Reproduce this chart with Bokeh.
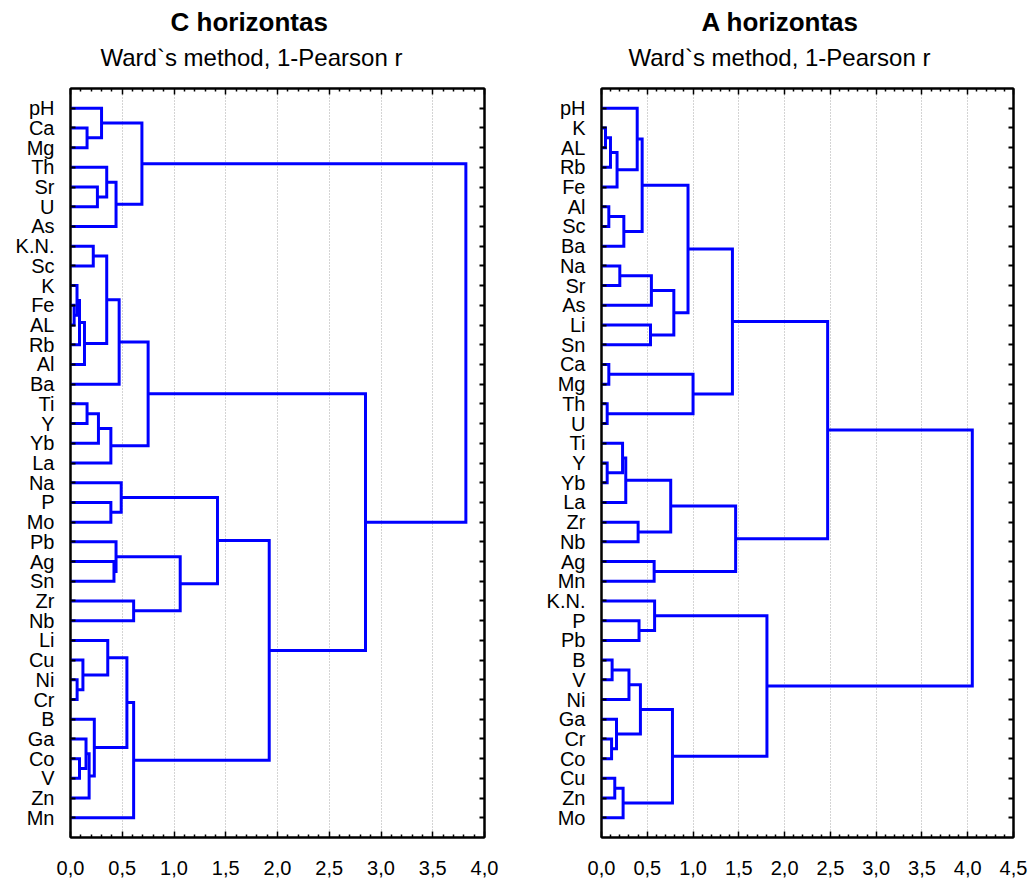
import numpy as np
from bokeh.plotting import figure
from bokeh.models import Range1d, FixedTicker, LinearAxis, Title, CustomJSTickFormatter
from bokeh.layouts import row
from bokeh.embed import file_html
from bokeh.resources import INLINE

FONT = "Liberation Sans"

# ---------------- C horizontas ----------------
c_title = "C horizontas"
c_subtitle = "Ward`s method, 1-Pearson r"
c_leaves = ["pH", "Ca", "Mg", "Th", "Sr", "U", "As", "K.N.", "Sc", "K", "Fe", "AL",
            "Rb", "Al", "Ba", "Ti", "Y", "Yb", "La", "Na", "P", "Mo", "Pb", "Ag",
            "Sn", "Zr", "Nb", "Li", "Cu", "Ni", "Cr", "B", "Ga", "Co", "V", "Zn", "Mn"]
# merges: children are leaf names or indices of earlier merges
c_left = ["Ca", "pH", "Sr", "Th", 3, 1, "K.N.", "Fe", "K", 8, 9, 6, 11, "Ti", 13, 14,
          12, "P", "Na", "Ag", "Pb", "Zr", 20, 18, "Ni", "Cu", "Li", "Co", "Ga", 28,
          "B", 26, 31, 23, 16, 5]
c_right = ["Mg", 0, "U", 2, "As", 4, "Sc", "AL", 7, "Rb", "Al", 10, "Ba", "Y", "Yb",
           "La", 15, "Mo", 17, "Sn", 19, "Nb", 21, 22, "Cr", 24, 25, "V", 27, "Zn",
           29, 30, "Mn", 32, 33, 34]
c_height = [0.16, 0.30, 0.26, 0.35, 0.44, 0.69, 0.22, 0.035, 0.063, 0.087, 0.135,
            0.35, 0.47, 0.16, 0.27, 0.39, 0.75, 0.39, 0.49, 0.42, 0.44, 0.61, 1.06,
            1.42, 0.064, 0.12, 0.36, 0.087, 0.15, 0.18, 0.23, 0.545, 0.61, 1.92,
            2.85, 3.82]
c_xticks = [0.0, 0.5, 1.0, 1.5, 2.0, 2.5, 3.0, 3.5, 4.0]
c_xlabels = ["0,0", "0,5", "1,0", "1,5", "2,0", "2,5", "3,0", "3,5", "4,0"]

# ---------------- A horizontas ----------------
a_title = "A horizontas"
a_subtitle = "Ward`s method, 1-Pearson r"
a_leaves = ["pH", "K", "AL", "Rb", "Fe", "Al", "Sc", "Ba", "Na", "Sr", "As", "Li",
            "Sn", "Ca", "Mg", "Th", "U", "Ti", "Y", "Yb", "La", "Zr", "Nb", "Ag",
            "Mn", "K.N.", "P", "Pb", "B", "V", "Ni", "Ga", "Cr", "Co", "Cu", "Zn", "Mo"]
a_left = ["K", 0, 1, "pH", "Al", 4, 3, "Na", 7, "Li", 8, 6, "Ca", "Th", 12, 11, "Y",
          "Ti", 17, "Zr", 18, "Ag", 20, 15, "P", "K.N.", "B", 26, "Cr", "Ga", 27,
          "Cu", 31, 30, 25, 23]
a_right = ["AL", "Rb", "Fe", 2, "Sc", "Ba", 5, "Sr", "As", "Sn", 9, 10, "Mg", "U", 13,
           14, "Yb", 16, "La", "Nb", 19, "Mn", 21, 22, "Pb", 24, "V", "Ni", "Co", 28,
           29, "Zn", "Mo", 32, 33, 34]
a_height = [0.044, 0.098, 0.17, 0.39, 0.08, 0.244, 0.444, 0.20, 0.545, 0.535, 0.79,
            0.945, 0.08, 0.062, 1.0, 1.43, 0.062, 0.23, 0.265, 0.40, 0.756, 0.575,
            1.465, 2.47, 0.41, 0.58, 0.116, 0.30, 0.11, 0.164, 0.425, 0.145, 0.236,
            0.775, 1.807, 4.05]
a_xticks = [0.0, 0.5, 1.0, 1.5, 2.0, 2.5, 3.0, 3.5, 4.0, 4.5]
a_xlabels = ["0,0", "0,5", "1,0", "1,5", "2,0", "2,5", "3,0", "3,5", "4,0", "4,5"]

FIG_H = 878
MB_TOP = 88
MB_BOTTOM = 41


def tree_paths(leaves, left, right, height):
    ypos = {name: i + 1 for i, name in enumerate(leaves)}
    node_x, node_y = [], []
    xs, ys = [], []

    def get(c):
        if isinstance(c, str):
            return 0.0, ypos[c]
        return node_x[c], node_y[c]

    for l, r, h in zip(left, right, height):
        xl, yl = get(l)
        xr, yr = get(r)
        xs.append([xl, h, h, xr])
        ys.append([yl, yl, yr, yr])
        node_x.append(h)
        node_y.append((yl + yr) / 2.0)
    return xs, ys


def make_panel(title, subtitle, leaves, left, right, height, xticks, xlabels,
               width, mb_left, mb_right, t_off, s_off):
    n = len(leaves)
    xmax = xticks[-1]
    p = figure(width=width, height=FIG_H, output_backend="svg", toolbar_location=None,
               x_range=Range1d(0, xmax), y_range=Range1d(n + 1, 0),
               min_border_left=mb_left, min_border_right=mb_right,
               min_border_top=MB_TOP, min_border_bottom=MB_BOTTOM, title=None,
               background_fill_color="white", border_fill_color="white")
    p.outline_line_color = "black"
    p.outline_line_width = 2

    minor = [round(v, 1) for v in np.arange(0, xmax + 0.001, 0.1)
             if abs(v * 2 - round(v * 2)) > 1e-6]

    xa = p.xaxis[0]
    xa.ticker = FixedTicker(ticks=xticks, minor_ticks=minor)
    xa.major_label_overrides = {t: lab for t, lab in zip(xticks, xlabels)}
    xa.major_tick_in = 6
    xa.major_tick_out = 0
    xa.minor_tick_in = 3
    xa.minor_tick_out = 0
    xa.axis_line_width = 2
    xa.major_tick_line_width = 1.5
    xa.minor_tick_line_width = 1.5
    xa.major_label_standoff = 23
    xa.major_label_text_font = FONT
    xa.major_label_text_font_size = "20px"
    xa.major_label_text_color = "black"

    # top axis: inward ticks only
    top = LinearAxis(ticker=FixedTicker(ticks=xticks, minor_ticks=minor),
                     formatter=CustomJSTickFormatter(code="return ''"),
                     major_tick_in=6, major_tick_out=0, minor_tick_in=3, minor_tick_out=0,
                     major_label_standoff=0, axis_line_width=2,
                     major_tick_line_width=1.5, minor_tick_line_width=1.5)
    p.add_layout(top, "above")

    ya = p.yaxis[0]
    ya.ticker = FixedTicker(ticks=list(range(1, n + 1)), minor_ticks=[])
    ya.major_label_overrides = {i + 1: nm for i, nm in enumerate(leaves)}
    ya.major_tick_in = 5
    ya.major_tick_out = 0
    ya.minor_tick_in = 0
    ya.minor_tick_out = 0
    ya.axis_line_width = 2
    ya.major_tick_line_width = 2
    ya.major_label_standoff = 16
    ya.major_label_text_font = FONT
    ya.major_label_text_font_size = "20px"
    ya.major_label_text_color = "black"

    rax = LinearAxis(ticker=FixedTicker(ticks=list(range(1, n + 1)), minor_ticks=[]),
                     formatter=CustomJSTickFormatter(code="return ''"),
                     major_tick_in=5, major_tick_out=0, minor_tick_in=0, minor_tick_out=0,
                     major_label_standoff=0, axis_line_width=2, major_tick_line_width=2)
    p.add_layout(rax, "right")

    p.add_layout(Title(text=subtitle, align="left", offset=s_off, text_font=FONT,
                       text_font_size="24px", text_font_style="normal",
                       text_color="black", standoff=36), "above")
    p.add_layout(Title(text=title, align="left", offset=t_off, text_font=FONT,
                       text_font_size="26px", text_font_style="bold",
                       text_color="black", standoff=-26), "above")

    p.xgrid.ticker = FixedTicker(ticks=xticks)
    p.xgrid.grid_line_color = "#a8a8a8"
    p.xgrid.grid_line_dash = "1 2"
    p.xgrid.grid_line_width = 1
    p.ygrid.visible = False

    xs, ys = tree_paths(leaves, left, right, height)
    p.multi_line(xs, ys, line_color="#0000ff", line_width=3, line_join="miter")
    return p


p1 = make_panel(c_title, c_subtitle, c_leaves, c_left, c_right, c_height,
                c_xticks, c_xlabels, width=515, mb_left=70, mb_right=31,
                t_off=100, s_off=30)
p2 = make_panel(a_title, a_subtitle, a_leaves, a_left, a_right, a_height,
                a_xticks, a_xlabels, width=514, mb_left=86, mb_right=16,
                t_off=100, s_off=27)

layout = row(p1, p2)
open("out.html", "w").write(file_html(layout, INLINE))
